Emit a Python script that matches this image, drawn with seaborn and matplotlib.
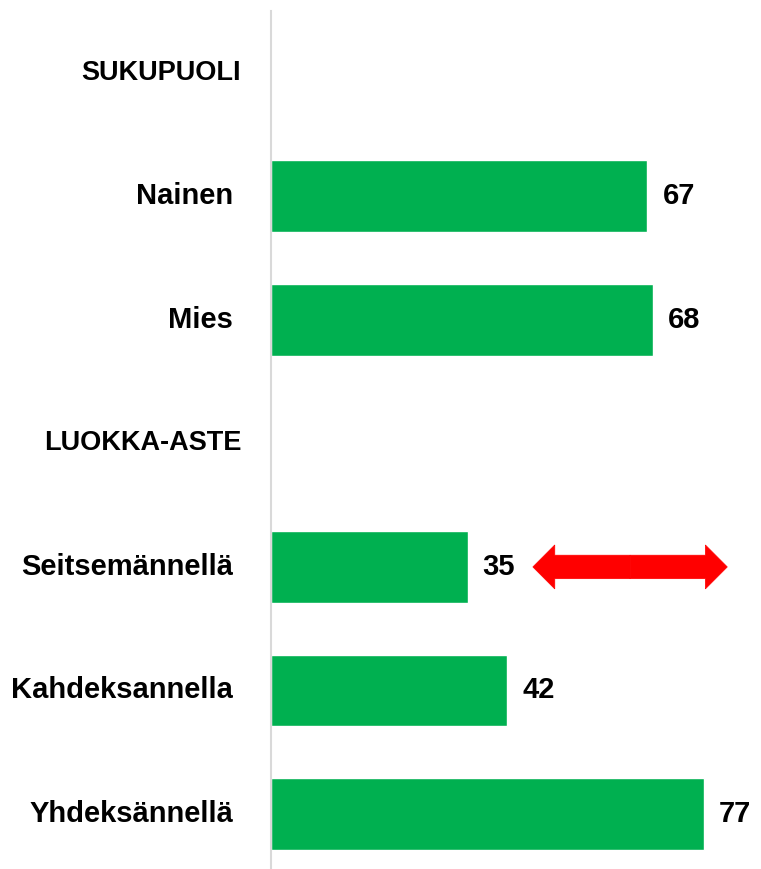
import matplotlib
matplotlib.use("Agg")
import matplotlib.pyplot as plt
import seaborn as sns
import pandas as pd
import numpy as np

categories = ["SUKUPUOLI", "Nainen", "Mies", "LUOKKA-ASTE",
              "Seitsemännellä", "Kahdeksannella", "Yhdeksännellä"]
values = [np.nan, 67, 68, np.nan, 35, 42, 77]
headers = ["SUKUPUOLI", "LUOKKA-ASTE"]
arrow_row = "Seitsemännellä"
arrow_span = (46.6, 81.2)

sns.set_style("white")
plt.rcParams["font.family"] = ["Liberation Sans", "DejaVu Sans"]
plt.rcParams["text.color"] = "black"

df = pd.DataFrame({"label": categories, "value": values})

fig = plt.figure(figsize=(7.61, 8.69), dpi=100)
ax = fig.add_axes([271 / 761, 0, 1 - 271 / 761, 858 / 869])

sns.barplot(data=df, y="label", x="value", order=categories, orient="h",
            color="#00B050", saturation=1, width=0.58, ax=ax)

ax.set_xlim(0, 87.2)
ax.set_ylim(6.445, -0.5)
ax.set_xlabel("")
ax.set_ylabel("")
ax.set_xticks([])
ax.set_yticks([])
for s in ["top", "right", "bottom"]:
    ax.spines[s].set_visible(False)
ax.spines["left"].set_color("#d9d9d9")
ax.spines["left"].set_linewidth(1.5)

for i, (lab, val) in enumerate(zip(categories, values)):
    if lab in headers:
        off, fs = -30, 19.5
    else:
        off, fs = -38, 21
    ax.annotate(lab, xy=(0, i), xytext=(off, 0), textcoords="offset pixels",
                ha="right", va="center", fontsize=fs, fontweight="bold",
                color="black", annotation_clip=False)
    if not np.isnan(val):
        ax.annotate(f"{val:.0f}", xy=(val, i), xytext=(15, 0),
                    textcoords="offset pixels", ha="left", va="center",
                    fontsize=21, fontweight="bold", color="black",
                    annotation_clip=False)

# red double arrow
r = categories.index(arrow_row)
mid = (arrow_span[0] + arrow_span[1]) / 2
for end in arrow_span:
    ax.arrow(mid, r, end - mid, 0, width=0.19, head_width=0.356,
             head_length=3.9, length_includes_head=True,
             color="red", lw=0.5)

fig.savefig("out.png", dpi=100)
